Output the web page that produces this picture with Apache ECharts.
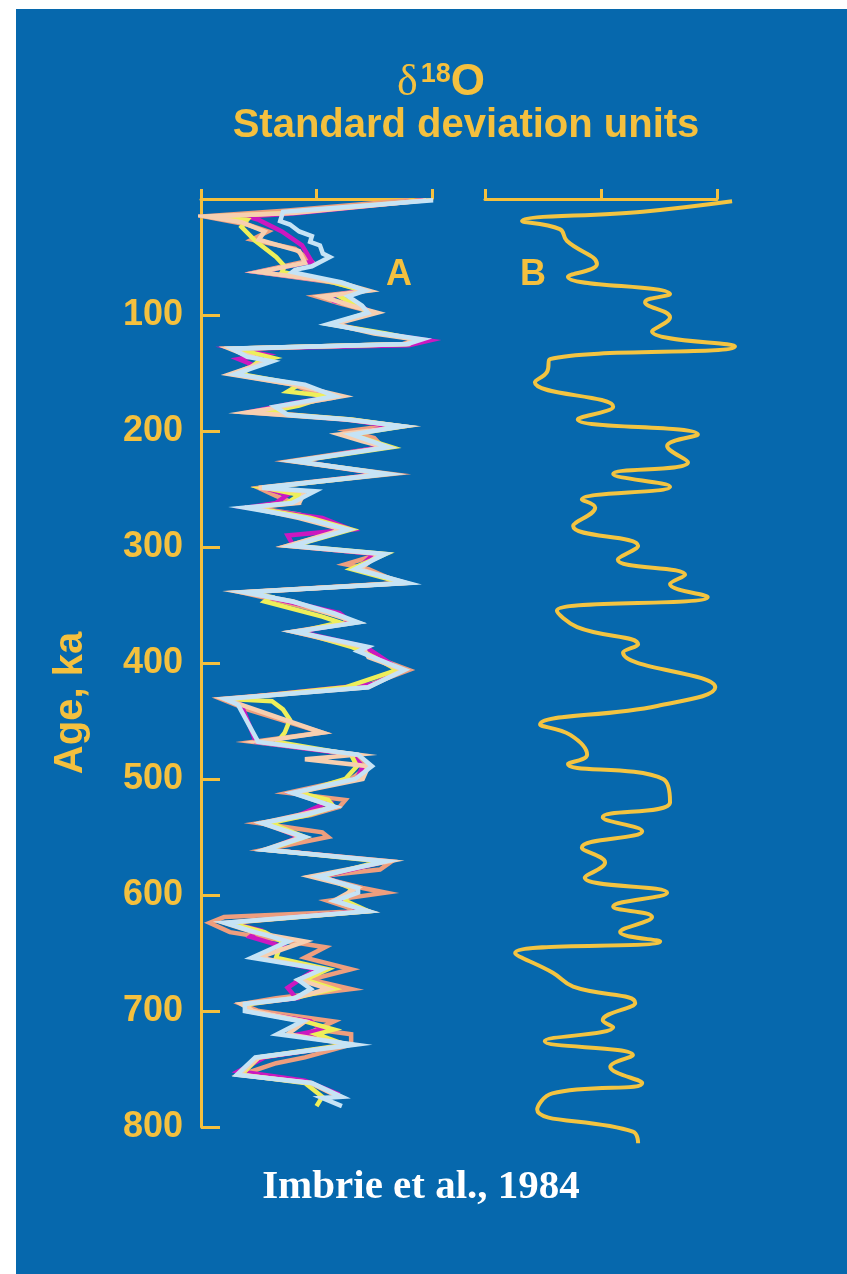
<!DOCTYPE html>
<html>
<head>
<meta charset="utf-8">
<script src="https://cdn.jsdelivr.net/npm/echarts@6/dist/echarts.min.js"></script>
<style>
  html, body { margin: 0; padding: 0; background: #fff; }
  #chart { width: 847px; height: 1274px; }
</style>
</head>
<body>
<div id="chart"></div>
<script>
// age ticks on the left axis (ka)
const ageTicks = [100, 200, 300, 400, 500, 600, 700, 800];

// panel A, stacked records : [age ka, std dev units]
const salmonA = [[1, 1.6], [10, -0.5], [15, -1.95], [22, -1.2], [28, -0.84], [35, -1.12], [43, -0.37], [53, -0.11], [63, -1.03], [72, 0.3], [79, 0.85], [84, 0.0], [90, 0.4], [98, 1.0], [108, 0.25], [116, 1.1], [121, 1.75], [125, 1.5], [129, -1.45], [134, -1.1], [140, -0.9], [151, -1.45], [160, -0.4], [172, 0.2], [178, -0.5], [184, -1.15], [190, 0.6], [195, 1.3], [200, 0.55], [206, 1.0], [214, 1.15], [226, -0.45], [237, 1.3], [249, -1.0], [256, -0.7], [262, -0.4], [266, -1.1], [272, -0.3], [285, 0.5], [299, -0.5], [306, 1.1], [315, 0.5], [319, 0.9], [331, 1.45], [339, -1.3], [347, -0.6], [360, 0.45], [365, 0.55], [373, -0.4], [386, 0.7], [395, 1.0], [406, 1.6], [421, 0.8], [431, -1.65], [440, -1.2], [460, 0.1], [468, -1.1], [479, 0.7], [489, 0.9], [500, 0.6], [512, -0.5], [518, 0.5], [524, 0.4], [531, -0.1], [538, -1.0], [546, 0.1], [550, 0.2], [561, -0.9], [571, 1.3], [578, 1.1], [584, 0.0], [594, 0.8], [598, 1.2], [605, 0.2], [614, 0.75], [619, -1.6], [624, -1.85], [632, -1.5], [645, 0.15], [654, -0.2], [664, 0.6], [673, -0.1], [681, 0.6], [689, -0.7], [694, -1.3], [700, -1.0], [709, 0.3], [716, 0.0], [720, 0.6], [729, 0.6], [740, -0.2], [745, -0.7], [755, -1.3], [762, -0.1], [772, 0.3]];

const magentaA = [[1, 1.85], [12, -0.3], [15, -1.2], [18, -1.0], [28, -0.6], [40, -0.25], [54, -0.08], [60, -0.7], [63, -1.0], [72, 0.4], [79, 0.8], [84, 0.2], [88, 0.3], [92, 0.75], [98, 0.95], [108, 0.3], [116, 1.1], [122, 1.95], [126, 1.6], [129, -1.4], [134, -0.9], [138, -1.35], [143, -1.1], [151, -1.35], [160, -0.3], [170, 0.35], [176, -0.4], [183, -1.1], [190, 0.5], [196, 1.3], [203, 0.6], [214, 1.1], [226, -0.3], [237, 1.1], [249, -0.9], [255, -0.5], [262, -0.7], [266, -1.2], [275, 0.1], [285, 0.6], [290, -0.5], [299, -0.4], [306, 1.0], [319, 0.7], [331, 1.5], [339, -1.2], [347, -0.5], [357, 0.4], [365, 0.6], [373, -0.3], [386, 0.85], [406, 1.45], [418, 1.0], [431, -1.5], [436, -1.3], [468, -1.05], [479, 0.6], [489, 0.8], [500, 0.7], [512, -0.4], [520, 0.2], [531, -0.3], [538, -0.9], [550, -0.3], [561, -0.85], [571, 1.2], [584, 0.1], [594, 0.65], [605, 0.4], [614, 0.8], [624, -1.5], [630, -1.0], [636, -1.15], [645, -0.55], [654, -1.0], [664, 0.0], [670, -0.2], [680, -0.5], [689, -0.35], [694, -1.2], [700, -1.2], [709, -0.1], [716, 0.1], [720, -0.3], [729, 0.55], [740, -0.9], [752, -1.35], [760, -0.2], [772, 0.4]];

const yellowA = [[2, 1.7], [12, -0.5], [15, -1.8], [18, -1.2], [24, -1.3], [36, -1.06], [50, -0.7], [58, -0.55], [63, -0.6], [72, 0.3], [79, 0.8], [84, 0.4], [92, 0.7], [98, 0.9], [108, 0.25], [116, 1.2], [121, 1.7], [125, 1.6], [129, -1.4], [137, -0.75], [140, -1.0], [151, -1.3], [160, -0.3], [166, -0.5], [170, 0.2], [178, -0.3], [184, -0.9], [190, 0.6], [196, 1.5], [203, 0.6], [214, 1.3], [226, -0.35], [237, 1.2], [249, -0.9], [255, -0.3], [262, -0.5], [266, -1.1], [275, -0.1], [285, 0.6], [299, -0.4], [306, 1.2], [319, 0.6], [331, 1.5], [339, -1.2], [343, -0.8], [347, -0.9], [360, 0.1], [365, 0.4], [373, -0.3], [386, 0.6], [395, 1.0], [406, 1.4], [421, 0.5], [431, -1.5], [433, -0.77], [440, -0.58], [449, -0.46], [460, -0.55], [468, -0.68], [479, 0.6], [489, 0.7], [500, 0.5], [512, -0.3], [518, 0.2], [524, 0.3], [531, -0.15], [538, -0.8], [550, -0.2], [561, -0.85], [571, 1.1], [584, 0.1], [594, 0.6], [605, 0.5], [614, 0.9], [624, -1.5], [632, -0.9], [640, -0.6], [654, -0.7], [664, 0.2], [673, -0.2], [681, 0.3], [689, -0.4], [694, -1.15], [700, -1.2], [709, -0.2], [716, 0.3], [720, 0.0], [729, 0.5], [740, -1.0], [755, -1.3], [762, -0.2], [774, 0.1], [782, 0.0]];

const peachA = [[1, 1.9], [12, -0.4], [15, -1.9], [20, -1.3], [28, -0.9], [35, -1.0], [45, -0.3], [55, -0.2], [63, -1.0], [72, 0.4], [79, 0.9], [84, 0.1], [92, 0.6], [98, 1.05], [108, 0.3], [116, 1.0], [121, 1.7], [125, 1.55], [129, -1.5], [133, -1.3], [140, -0.85], [151, -1.5], [160, -0.4], [170, 0.45], [179, -0.6], [184, -1.2], [190, 0.5], [196, 1.5], [203, 0.4], [209, 0.8], [214, 1.2], [226, -0.4], [237, 1.15], [249, -1.0], [252, -0.2], [262, -0.3], [266, -1.15], [275, -0.3], [285, 0.45], [299, -0.5], [306, 1.1], [319, 0.75], [331, 1.55], [339, -1.3], [347, -0.4], [357, 0.2], [365, 0.7], [373, -0.4], [386, 0.8], [395, 0.9], [406, 1.5], [421, 0.9], [431, -1.6], [460, 0.1], [468, -1.0], [479, 0.7], [483, -0.2], [489, 0.9], [500, 0.8], [512, -0.4], [524, 0.3], [531, -0.3], [538, -0.95], [550, -0.25], [561, -0.9], [571, 1.25], [584, -0.1], [594, 0.7], [605, 0.3], [614, 0.9], [624, -1.6], [632, -1.1], [640, -0.2], [654, -1.0], [664, 0.1], [673, -0.3], [681, 0.2], [689, -0.4], [694, -1.3], [700, -1.1], [709, -0.2], [720, -0.5], [729, 0.6], [740, -1.0], [755, -1.35], [762, -0.1], [774, 0.4]];

const blueA = [[1, 2.02], [11, -0.58], [19, -0.63], [22, -0.46], [28, -0.3], [32, -0.08], [37, -0.11], [40, 0.06], [47, 0.11], [50, 0.23], [58, -0.08], [61, -0.37], [63, -0.42], [72, 0.44], [79, 0.84], [84, 0.55], [92, 0.79], [98, 0.89], [108, 0.2], [116, 1.13], [121, 1.83], [125, 1.58], [129, -1.46], [136, -1.2], [140, -0.77], [151, -1.41], [160, -0.2], [170, 0.32], [179, -0.72], [186, -0.5], [190, 0.55], [196, 1.48], [203, 0.61], [214, 1.24], [226, -0.37], [237, 1.24], [249, -0.94], [252, -0.03], [262, -0.42], [266, -1.24], [275, -0.2], [285, 0.55], [299, -0.42], [306, 1.19], [319, 0.67], [331, 1.58], [339, -1.24], [347, -0.42], [357, 0.3], [365, 0.72], [373, -0.37], [386, 0.89], [390, 0.72], [406, 1.53], [421, 0.89], [431, -1.58], [436, -1.36], [468, -1.01], [479, 0.72], [489, 0.96], [500, 0.67], [512, -0.42], [524, 0.32], [531, -0.2], [538, -0.94], [550, -0.2], [561, -0.89], [571, 1.19], [584, 0.03], [594, 0.72], [598, 0.72], [605, 0.32], [614, 0.89], [624, -1.58], [632, -1.06], [640, -0.49], [654, -1.12], [664, 0.1], [673, -0.32], [681, -0.1], [689, -0.37], [694, -1.24], [700, -1.24], [709, -0.25], [720, -0.68], [729, 0.67], [740, -1.06], [755, -1.38], [762, -0.08], [774, 0.44], [775, 0.1], [782, 0.44]];

// panel B, stacked smoothed record : [age ka, std dev units]
const curveB = [[2, 2.26], [11, 0.72], [19, -1.36], [26, -0.71], [36, -0.59], [56, -0.07], [67, -0.57], [82, 1.19], [89, 0.76], [102, 1.19], [114, 0.88], [127, 2.31], [138, -0.88], [149, -0.93], [158, -1.14], [179, 0.21], [190, -0.4], [203, 1.67], [213, 1.14], [227, 1.5], [237, 0.21], [248, 1.19], [259, -0.33], [266, -0.1], [282, -0.48], [299, 0.64], [311, 0.29], [324, 1.45], [332, 1.19], [343, 1.84], [355, -0.76], [369, -0.41], [384, 0.64], [391, 0.38], [421, 1.97], [437, 0.97], [453, -1.05], [462, -0.53], [479, -0.24], [487, -0.57], [500, 1.07], [520, 1.19], [533, 0.03], [545, 0.71], [559, -0.33], [572, 0.07], [585, -0.28], [598, 1.14], [610, 0.21], [619, 0.88], [632, 0.33], [640, 1.02], [650, -1.48], [667, -0.83], [679, -0.48], [693, 0.59], [708, 0.03], [714, 0.21], [726, -0.97], [738, 0.55], [748, 0.16], [762, 0.71], [771, -0.84], [785, -1.1], [804, 0.55], [814, 0.64]];

const YEL = '#f4c03e';
const BG = '#0668ad';

const chart = echarts.init(document.getElementById('chart'), null, { renderer: 'canvas' });

function toXY(arr) {
  return arr.map(p => [p[1], p[0]]);
}

function lineA(name, data, color) {
  return {
    name: name,
    type: 'line',
    xAxisIndex: 2,
    yAxisIndex: 2,
    data: toXY(data),
    symbol: 'none',
    clip: false,
    lineStyle: { color: color, width: 4.5, join: 'miter' },
    z: 3
  };
}

function topAxis(idx) {
  return {
    gridIndex: idx,
    type: 'value',
    position: 'top',
    min: -2,
    max: 2,
    interval: 2,
    axisLine: { show: true, onZero: false, lineStyle: { color: YEL, width: 3 } },
    axisTick: { show: true, inside: false, length: 10, lineStyle: { color: YEL, width: 3 } },
    axisLabel: { show: false },
    splitLine: { show: false }
  };
}

// hidden wide axes: same scale as the visible ones, just with room past +2
function plotAxis(idx) {
  return { gridIndex: idx, type: 'value', min: -2, max: 2.6, show: false };
}

function plotAge(idx) {
  return { gridIndex: idx, type: 'value', inverse: true, min: 0, max: 820, show: false };
}

const option = {
  backgroundColor: '#ffffff',
  animation: false,
  title: [
    {
      text: '{d|δ}{s|18}{o|O}',
      left: 436,
      top: 56,
      textAlign: 'center',
      textStyle: {
        rich: {
          d: { fontFamily: 'Liberation Serif', fontWeight: 'normal', fontSize: 44, color: YEL, padding: [0, 3, 0, 0] },
          s: { fontFamily: 'Liberation Sans', fontWeight: 'bold', fontSize: 27, color: YEL, padding: [0, 0, 16, 0] },
          o: { fontFamily: 'Liberation Sans', fontWeight: 'bold', fontSize: 44, color: YEL }
        }
      }
    },
    {
      text: 'Standard deviation units',
      left: 461,
      top: 101,
      textAlign: 'center',
      textStyle: { fontFamily: 'Liberation Sans', fontWeight: 'bold', fontSize: 40, color: YEL }
    },
    {
      text: 'Imbrie et al., 1984',
      left: 416,
      top: 1162,
      textAlign: 'center',
      textStyle: { fontFamily: 'Liberation Serif', fontWeight: 'bold', fontSize: 41, color: '#ffffff' }
    }
  ],
  graphic: [
    {
      type: 'rect',
      z: -10,
      silent: true,
      shape: { x: 16, y: 9, width: 831, height: 1265 },
      style: { fill: BG }
    },
    {
      type: 'text',
      x: 71,
      y: 703,
      rotation: Math.PI / 2,
      style: {
        text: 'Age, ka',
        fontFamily: 'Liberation Sans',
        fontWeight: 'bold',
        fontSize: 40,
        fill: YEL,
        align: 'center',
        verticalAlign: 'middle'
      }
    },
    {
      type: 'text',
      x: 399,
      y: 275,
      style: { text: 'A', fontFamily: 'Liberation Sans', fontWeight: 'bold', fontSize: 36, fill: YEL, align: 'center', verticalAlign: 'middle' }
    },
    {
      type: 'text',
      x: 533,
      y: 275,
      style: { text: 'B', fontFamily: 'Liberation Sans', fontWeight: 'bold', fontSize: 36, fill: YEL, align: 'center', verticalAlign: 'middle' }
    }
  ],
  grid: [
    { left: 201, top: 199, width: 231, height: 928 },
    { left: 485, top: 199, width: 232, height: 928 },
    { left: 201, top: 199, width: 231 * 4.6 / 4, height: 928 * 820 / 800 },
    { left: 485, top: 199, width: 232 * 4.6 / 4, height: 928 * 820 / 800 }
  ],
  xAxis: [topAxis(0), topAxis(1), plotAxis(2), plotAxis(3)],
  yAxis: [
    {
      gridIndex: 0,
      type: 'value',
      inverse: true,
      min: 0,
      max: 800,
      interval: 100,
      axisLine: { show: true, onZero: false, lineStyle: { color: YEL, width: 3 } },
      axisTick: { show: true, inside: true, length: 19, lineStyle: { color: YEL, width: 3 } },
      axisLabel: {
        color: YEL,
        fontFamily: 'Liberation Sans',
        fontWeight: 'bold',
        fontSize: 36,
        margin: 18,
        formatter: v => (ageTicks.includes(v) ? String(v) : '')
      },
      splitLine: { show: false }
    },
    {
      gridIndex: 1,
      type: 'value',
      inverse: true,
      min: 0,
      max: 800,
      show: false
    },
    plotAge(2),
    plotAge(3)
  ],
  series: [
    lineA('salmon', salmonA, '#ee9e7e'),
    lineA('magenta', magentaA, '#cc18c0'),
    lineA('yellow', yellowA, '#eeef5a'),
    lineA('peach', peachA, '#f7cfb0'),
    lineA('blue', blueA, '#c6e3f5'),
    {
      name: 'B',
      type: 'line',
      xAxisIndex: 3,
      yAxisIndex: 3,
      data: toXY(curveB),
      symbol: 'none',
      smooth: 0.45,
      clip: false,
      lineStyle: { color: '#f3c441', width: 4 }
    }
  ]
};

chart.setOption(option);
</script>
</body>
</html>
